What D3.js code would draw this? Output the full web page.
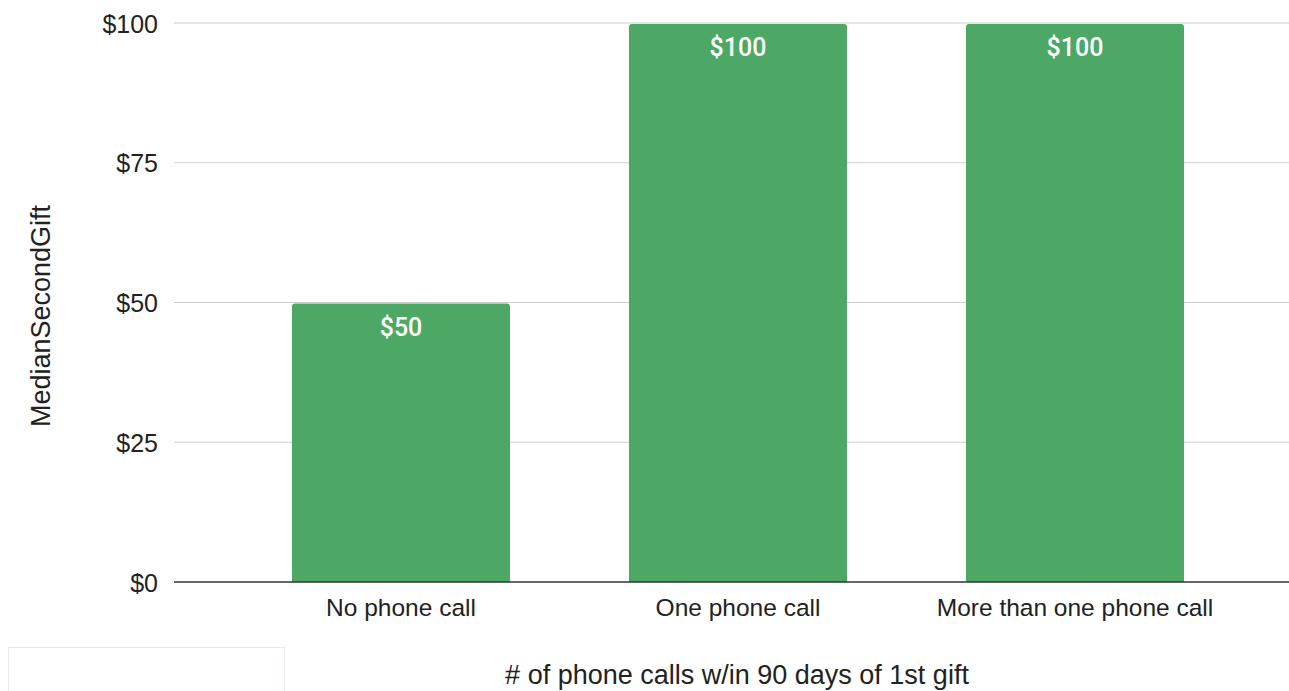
<!DOCTYPE html>
<html><head><meta charset="utf-8">
<script src="https://cdn.jsdelivr.net/npm/d3@7"></script>
<style>body{margin:0;background:#fff}svg{display:block}</style>
</head><body>
<svg id="c" width="1289" height="691"></svg>
<script>
const categories = ["No phone call", "One phone call", "More than one phone call"];
const values = [50, 100, 100];
const yTicks = [0, 25, 50, 75, 100];
const yTitle = "MedianSecondGift";
const xTitle = "# of phone calls w/in 90 days of 1st gift";

const svg = d3.select("#c");
const x = d3.scaleBand().domain(categories).range([232.5, 1243.5]).paddingInner(0.353).paddingOuter(0.1765);
const y = d3.scaleLinear().domain([0, 100]).range([582, 23]);
const fmt = d => "$" + d;
const FONT = "Liberation Sans, Arial, sans-serif";

// gridlines
svg.append("g").selectAll("line").data(yTicks.filter(d => d !== 0)).join("line")
  .attr("x1", 174).attr("x2", 1289).attr("y1", d => y(d)).attr("y2", d => y(d))
  .attr("stroke", "#cccccc").attr("stroke-width", 1.2);

// y axis labels
const yAxis = d3.axisLeft(y).tickValues(yTicks).tickFormat(fmt).tickSize(0).tickPadding(0);
const ya = svg.append("g").attr("transform", "translate(158,0)").call(yAxis);
ya.select(".domain").remove();
ya.selectAll("text").attr("font-family", FONT).attr("font-size", 25).attr("fill", "#222").attr("dy", "0.36em");

// bars
svg.append("g").selectAll("path").data(values).join("path")
  .attr("fill", "#4da865")
  .attr("d", (d, i) => {
    const x0 = x(categories[i]), w = x.bandwidth(), top = y(d) + 1, bot = y(0), r = 3;
    return `M${x0},${bot}V${top + r}Q${x0},${top} ${x0 + r},${top}H${x0 + w - r}Q${x0 + w},${top} ${x0 + w},${top + r}V${bot}Z`;
  });

// value labels
svg.append("g").selectAll("text").data(values).join("text")
  .attr("x", (d, i) => x(categories[i]) + x.bandwidth() / 2)
  .attr("y", d => y(d) + 33)
  .attr("text-anchor", "middle")
  .attr("font-family", "Roboto, sans-serif").attr("font-weight", 500).attr("font-size", 25)
  .attr("fill", "#fff").text(fmt);

// baseline
svg.append("line").attr("x1", 174).attr("x2", 1289).attr("y1", y(0)).attr("y2", y(0))
  .attr("stroke", "#333").attr("stroke-width", 1.5);

// x axis labels
const xAxis = d3.axisBottom(x).tickSize(0).tickPadding(0);
const xa = svg.append("g").attr("transform", `translate(0,616)`).call(xAxis);
xa.select(".domain").remove();
xa.selectAll("text").attr("dy", 0).attr("y", 0).attr("font-family", FONT).attr("font-size", 24.5).attr("fill", "#222");

// axis titles
svg.append("text").attr("x", 737).attr("y", 684).attr("text-anchor", "middle")
  .attr("font-family", FONT).attr("font-size", 27).attr("fill", "#222").text(xTitle);
svg.append("text").attr("transform", "translate(50,316) rotate(-90)").attr("text-anchor", "middle")
  .attr("font-family", FONT).attr("font-size", 27).attr("fill", "#222").text(yTitle);

// empty box bottom-left
svg.append("rect").attr("x", 8.5).attr("y", 647.5).attr("width", 276).attr("height", 50)
  .attr("fill", "#fff").attr("stroke", "#e4ece2").attr("stroke-width", 1);
</script>
</body></html>
